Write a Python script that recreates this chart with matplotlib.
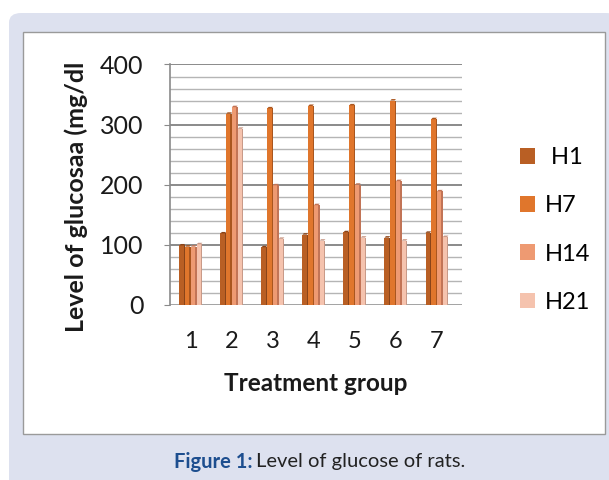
import numpy as np
import matplotlib
matplotlib.use('Agg')
import matplotlib.pyplot as plt
from matplotlib.patches import Patch, FancyBboxPatch, Rectangle, Polygon

# data
groups = [1, 2, 3, 4, 5, 6, 7]
series = [' H1', 'H7', 'H14', 'H21']
h1 = [99, 119, 96, 117, 121, 112, 120]
h7 = [97, 318, 327, 331, 332, 340, 309]
h14 = [97, 329, 199, 166, 200, 206, 189]
h21 = [101, 293, 110, 107, 112, 107, 113]
colors = ['#b95f24', '#e0762c', '#ee9a72', '#f5c3ae']
sides = ['#8a4419', '#a9561f', '#c27456', '#c99a88']

plt.rcParams['font.family'] = ['Lato', 'DejaVu Sans']

fig = plt.figure(figsize=(6.09, 4.8), dpi=100)
W, H = 609, 480

# lavender panel + white chart box
fig.patches.append(FancyBboxPatch((9 / W, -0.05), 1.0, (480 - 13) / H + 0.05,
                                  boxstyle='round,pad=0,rounding_size=0.02',
                                  transform=fig.transFigure, facecolor='#dde1ef',
                                  edgecolor='none', zorder=0))
fig.patches.append(Rectangle((23 / W, 1 - 434 / H), (605 - 23) / W, (434 - 32) / H,
                             transform=fig.transFigure, facecolor='white',
                             edgecolor='#9a9a9a', linewidth=1.0, zorder=1))

ax = fig.add_axes([170 / W, 1 - 305 / H, 292 / W, (305 - 64.5) / H])
ax.set_zorder(2)
ax.patch.set_alpha(0)

x = np.array(groups, dtype=float)
bw = 0.14
front = 0.105
data = [h1, h7, h14, h21]
for i, vals in enumerate(data):
    xs = x + (i - 1.5) * bw
    vals = np.array(vals)
    ax.bar(xs - bw / 2, vals, width=front, align='edge', color=colors[i],
           edgecolor='none', zorder=3 + i)
    ax.bar(xs - bw / 2 + front, vals, width=bw - front, align='edge', color=sides[i],
           edgecolor='none', zorder=3 + i)
    # small top face for the 3D look
    for xx, v in zip(xs, vals):
        ax.add_patch(Polygon([[xx - bw / 2, v], [xx - bw / 2 + front, v],
                              [xx + bw / 2, v + 2.5], [xx - bw / 2 + (bw - front), v + 2.5]],
                             closed=True, facecolor=sides[i], edgecolor='none', zorder=3 + i))

ax.set_xlim(0.49, 7.61)
ax.set_ylim(0, 400)
for yv in range(20, 401, 20):
    major = yv % 100 == 0
    ax.axhline(yv, color='#8a8a8a' if major else '#b5b5b5',
               lw=1.4 if major else 1.0, zorder=1)
# floor
ax.axhline(0, color='#9a9a9a', lw=2.0, zorder=2)

for s in ['top', 'right', 'bottom']:
    ax.spines[s].set_visible(False)
ax.spines['left'].set_color('#8a8a8a')
ax.spines['left'].set_linewidth(1.2)

ax.set_yticks([0, 100, 200, 300, 400])
ax.set_yticklabels(['0', '100', '200', '300', '400'], fontsize=18, color='#1a1a1a')
ax.set_xticks(groups)
ax.set_xticklabels([str(g) for g in groups], fontsize=17, color='#1a1a1a')
ax.tick_params(axis='y', length=4, color='#8a8a8a', pad=15)
ax.tick_params(axis='x', length=0, pad=19)

ax.set_ylabel('Level of glucosaa (mg/dl', fontsize=18, fontweight='bold',
              color='#1a1a1a')
ax.yaxis.set_label_coords(-0.28, 0.45)
ax.set_xlabel('Treatment group', fontsize=17.5, fontweight='bold',
              color='#1a1a1a', labelpad=14)

handles = [Patch(facecolor=c, edgecolor='none') for c in colors]
fig.legend(handles, series, loc='center left',
           bbox_to_anchor=(508 / W, 1 - 230 / H), frameon=False, fontsize=17,
           handlelength=0.65, handleheight=0.65, handletextpad=0.4,
           labelspacing=1.15, borderpad=0)

# caption
fig.text(0.415, 1 - 462 / H, 'Figure 1:', ha='right', va='center', fontsize=14.5,
         fontweight='bold', color='#1d4e8f')
fig.text(0.421, 1 - 462 / H, 'Level of glucose of rats.', ha='left', va='center',
         fontsize=14.5, color='#222222')

fig.savefig('out.png', dpi=100)
